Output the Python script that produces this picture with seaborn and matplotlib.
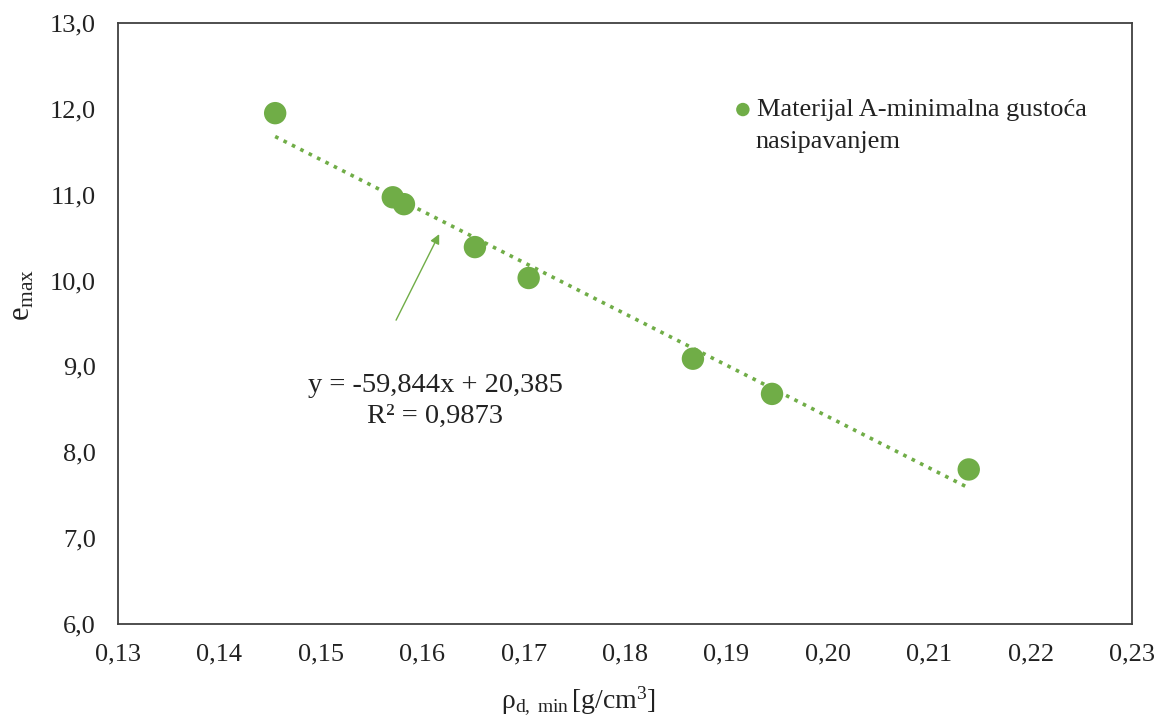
import numpy as np
import matplotlib
matplotlib.use("Agg")
import matplotlib.pyplot as plt
import seaborn as sns

# === Podaci ===
rho_d_min = [0.1455, 0.1571, 0.1582, 0.1652, 0.1705, 0.1867, 0.1945, 0.2139]
e_max = [11.95, 10.97, 10.89, 10.39, 10.03, 9.09, 8.68, 7.80]
slope = -59.844
intercept = 20.385
r2 = 0.9873
x_ticks = [0.13, 0.14, 0.15, 0.16, 0.17, 0.18, 0.19, 0.20, 0.21, 0.22, 0.23]
y_ticks = [6, 7, 8, 9, 10, 11, 12, 13]
legend_label = "Materijal A-minimalna gustoća"
legend_label2 = "nasipavanjem"

green = "#70AD47"

sns.set_theme(style="white")
plt.rcParams["font.family"] = ["Liberation Serif", "DejaVu Serif"]
plt.rcParams["mathtext.fontset"] = "custom"
plt.rcParams["mathtext.rm"] = "Liberation Serif"
plt.rcParams["mathtext.it"] = "Liberation Serif:italic"

fig = plt.figure(figsize=(11.59, 7.19), dpi=100)
ax = fig.add_axes([118 / 1159, 1 - 624 / 719, (1132 - 118) / 1159, (624 - 23) / 719])

# === Tocke ===
sns.scatterplot(x=rho_d_min, y=e_max, ax=ax, color=green, s=260,
                edgecolor="none", label=legend_label, zorder=3)

# === Linija trenda ===
xl = np.array([min(rho_d_min), max(rho_d_min)])
sns.lineplot(x=xl, y=slope * xl + intercept, ax=ax, color=green,
             linestyle=(0, (1, 1.6)), linewidth=2.6, zorder=2, legend=False)

eq = f"y = {slope:.3f}x + {intercept:.3f}\nR² = {r2:.4f}".replace(".", ",")
ax.text(0.1613, 8.60, eq, ha="center", va="center", multialignment="center",
        fontsize=20.5, color="#222222", linespacing=1.3)
ax.annotate("", xy=(0.1618, 10.57), xytext=(0.1573, 9.51),
            arrowprops=dict(arrowstyle="-|>", color=green, lw=1, mutation_scale=14))

# === Osi ===
ax.set_xlim(0.13, 0.23)
ax.set_ylim(6, 13)
ax.set_xticks(x_ticks)
ax.set_yticks(y_ticks)
ax.set_xticklabels([f"{v:.2f}".replace(".", ",") for v in x_ticks])
ax.set_yticklabels([f"{v:.1f}".replace(".", ",") for v in y_ticks])
ax.tick_params(direction="in", length=7, width=1, color="#404040",
               labelsize=19, labelcolor="#222222")
ax.tick_params(axis="y", pad=16)
ax.tick_params(axis="x", pad=14)
for s in ax.spines.values():
    s.set_color("#404040")
    s.set_linewidth(1.3)

ax.set_xlabel(r"$\mathrm{ρ_{d,\ min}\,[g/cm^3]}$", fontsize=20, color="#222222")
ax.xaxis.set_label_coords((578 - 118) / 1014, -0.100)
ax.set_ylabel(r"$\mathrm{e_{max}}$", fontsize=22, color="#222222")
ax.yaxis.set_label_coords((37 - 118) / 1014, (624 - 295) / 601)

leg = ax.legend(loc="upper left", bbox_to_anchor=(731 / 1159, 1 - 98 / 719),
                bbox_transform=fig.transFigure, frameon=False, fontsize=19,
                handlelength=0.9, handletextpad=0.1, borderpad=0,
                borderaxespad=0, markerscale=0.6)
for t in leg.get_texts():
    t.set_color("#222222")
fig.text(755 / 1159, 1 - 142 / 719, legend_label2, fontsize=19, color="#222222",
         ha="left", va="center")

fig.savefig("out.png", dpi=100)
